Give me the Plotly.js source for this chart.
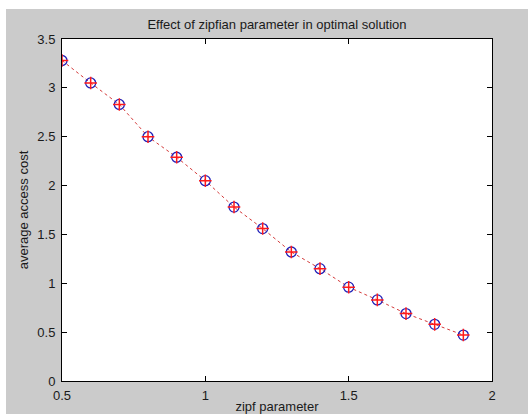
<!DOCTYPE html>
<html>
<head>
<meta charset="utf-8">
<script src="https://cdn.plot.ly/plotly-3.0.1.min.js"></script>
<style>
  html, body { margin: 0; padding: 0; background: #ffffff; width: 528px; height: 414px; overflow: hidden; }
  #chart { position: absolute; left: 6px; top: 9px; width: 522px; height: 405px; }
</style>
</head>
<body>
<div id="chart"></div>
<script>
// Zipf exponent and the resulting average access cost of the optimal solution
const zipfParameter = [0.5, 0.6, 0.7, 0.8, 0.9, 1.0, 1.1, 1.2, 1.3, 1.4, 1.5, 1.6, 1.7, 1.8, 1.9];
const averageAccessCost = [3.28, 3.05, 2.83, 2.50, 2.29, 2.05, 1.78, 1.56, 1.32, 1.15, 0.96, 0.83, 0.69, 0.58, 0.47];

const xTicks = [0.5, 1, 1.5, 2];
const yTicks = [0, 0.5, 1, 1.5, 2, 2.5, 3, 3.5];

const font = { family: 'Arial, "Liberation Sans", sans-serif', size: 13, color: '#1a1a1a' };

// dashed red line with open blue circles
const costLine = {
  x: zipfParameter,
  y: averageAccessCost,
  type: 'scatter',
  mode: 'lines+markers',
  line: { color: '#d43a3a', width: 1, dash: '3px,3px' },
  marker: { symbol: 'circle-open', size: 10, color: '#2020b8', line: { width: 1.3, color: '#2020b8' } },
  hoverinfo: 'x+y',
  showlegend: false
};

// red plus drawn over each circle
const costPlus = {
  x: zipfParameter,
  y: averageAccessCost,
  type: 'scatter',
  mode: 'markers',
  marker: { symbol: 'cross-thin-open', size: 9, color: '#ff1a1a', line: { width: 1.5, color: '#ff1a1a' } },
  hoverinfo: 'skip',
  showlegend: false
};

const axisCommon = {
  showgrid: false,
  zeroline: false,
  showline: true,
  linecolor: '#000000',
  linewidth: 1,
  mirror: 'ticks',
  ticks: 'inside',
  ticklen: 5,
  tickwidth: 1,
  tickcolor: '#000000',
  tickfont: font
};

const layout = {
  width: 522,
  height: 405,
  margin: { l: 56, r: 36, t: 30, b: 33 },
  paper_bgcolor: '#cbcbcb',
  plot_bgcolor: '#ffffff',
  font: font,
  title: {
    text: 'Effect of zipfian parameter in optimal solution',
    font: { family: font.family, size: 13, color: '#1a1a1a' },
    x: 0.5, xref: 'paper', xanchor: 'center',
    y: 0.963, yref: 'container', yanchor: 'middle'
  },
  xaxis: Object.assign({}, axisCommon, {
    range: [0.5, 2],
    tickmode: 'array',
    tickvals: xTicks,
    ticktext: xTicks.map(String),
    ticklabelstandoff: 2,
    title: { text: 'zipf parameter', font: font, standoff: 9 }
  }),
  yaxis: Object.assign({}, axisCommon, {
    range: [0, 3.5],
    tickmode: 'array',
    tickvals: yTicks,
    ticktext: yTicks.map(String),
    ticklabelstandoff: 3,
    title: { text: 'average access cost', font: font, standoff: 5 }
  })
};

Plotly.newPlot('chart', [costLine, costPlus], layout, { displayModeBar: false, staticPlot: true });
</script>
</body>
</html>
